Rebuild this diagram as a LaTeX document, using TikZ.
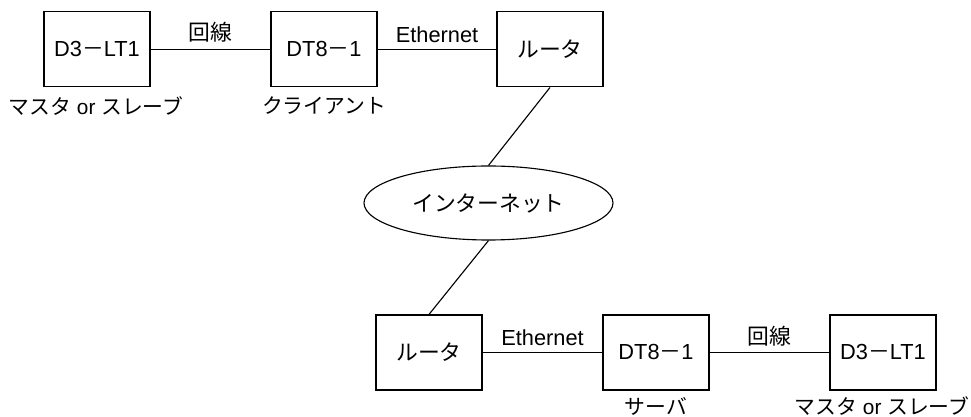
\documentclass[tikz,border=0pt]{standalone}
\usepackage{fontspec}
\setmainfont{Liberation Sans}
\newfontfamily\jp{Noto Sans CJK JP}
\usetikzlibrary{shapes.geometric}

\begin{document}
\begin{tikzpicture}[scale=1,
    every node/.style={font=\fontsize{15.5}{18}\selectfont},
    box/.style={draw, line width=0.8pt, minimum width=2.65cm, minimum height=1.875cm, inner sep=0pt},
    role/.style={font=\fontsize{14.8}{18}\selectfont, inner sep=0pt},
    link/.style={line width=0.8pt}]
    \useasboundingbox (0,0) rectangle (24.275,10.425);

    \coordinate (a1) at (2.425,9.19);
    \coordinate (a2) at (8.1,9.19);
    \coordinate (a3) at (13.75,9.19);
    \coordinate (n) at (12.2125,5.35);
    \coordinate (b1) at (10.725,1.6125);
    \coordinate (b2) at (16.4,1.6125);
    \coordinate (b3) at (22.075,1.6125);

    \node[box] (ltA) at (a1) {D3{\jp －}LT1};
    \node[box] (dtA) at (a2) {DT8{\jp －}1};
    \node[box] (rtA) at (a3) {\jp ルータ};
    \node[draw, ellipse, line width=0.8pt, minimum width=6.225cm, minimum height=1.85cm, inner sep=0pt] (net) at (n) {\jp インターネット};
    \node[box] (rtB) at (b1) {\jp ルータ};
    \node[box] (dtB) at (b2) {DT8{\jp －}1};
    \node[box] (ltB) at (b3) {D3{\jp －}LT1};

    \draw[link] (ltA) -- node[above=1pt] (lnA) {\jp 回線} (dtA);
    \draw[link] (dtA) -- node[above=1pt] (ethA) {Ethernet} (rtA);
    \draw[link] (rtA.south) -- (net.north);
    \draw[link] (net.south) -- (rtB.north);
    \draw[link] (rtB) -- node[above=1pt] (ethB) {Ethernet} (dtB);
    \draw[link] (dtB) -- node[above=1pt] (lnB) {\jp 回線} (ltB);

    \node[role] (roleA) at (2.4,7.775) {{\jp マスタ} or {\jp スレーブ}};
    \node[role] (roleB) at (8.1,7.775) {\jp クライアント};
    \node[role] (roleC) at (16.4,0.275) {\jp サーバ};
    \node[role] (roleD) at (22.05,0.275) {{\jp マスタ} or {\jp スレーブ}};
\end{tikzpicture}
\end{document}
